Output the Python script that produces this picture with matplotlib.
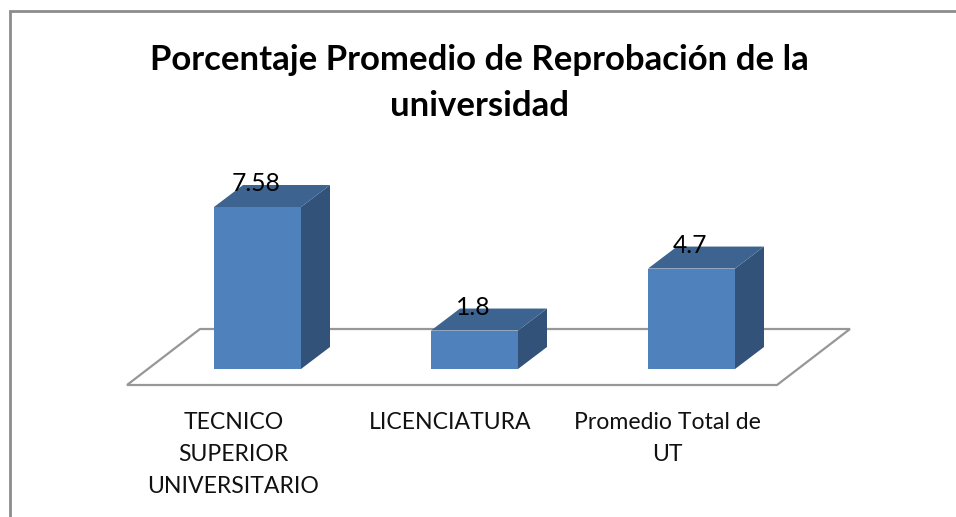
import matplotlib
matplotlib.use("Agg")
import matplotlib.pyplot as plt
from matplotlib.patches import Polygon
from matplotlib.lines import Line2D

categories = ["TECNICO\nSUPERIOR\nUNIVERSITARIO", "LICENCIATURA", "Promedio Total de\nUT"]
values = [7.58, 1.8, 4.7]
value_labels = ["7.58", "1.8", "4.7"]
title = "Porcentaje Promedio de Reprobación de la\nuniversidad"

W, H = 956, 517
FRONT, TOP, SIDE = "#4F81BD", "#3D6391", "#32527A"
GRID = "#8C8C8C"
plt.rcParams["font.family"] = ["Lato", "DejaVu Sans"]

fig = plt.figure(figsize=(W / 100, H / 100), dpi=100, facecolor="white")
ax = fig.add_axes([0, 0, 1, 1])

# scales: category spacing 217 px (first centre at 257.5), 21.37 px per value unit, zero at y=369
SX, SY, X0, Y0 = 217.0, 21.37, 257.5, 369.0
ax.set_xlim((0 - X0) / SX, (W - X0) / SX)
ax.set_ylim((Y0 - H) / SY, Y0 / SY)
ax.axis("off")
px = lambda x: (x - X0) / SX
py = lambda y: (Y0 - y) / SY

# frame (top and left only)
fig.add_artist(Line2D([9.5 / W, 9.5 / W, 1], [0, 1 - 10.5 / H, 1 - 10.5 / H], color=GRID, lw=2, solid_joinstyle="miter"))

# floor
floor = [(127, 385), (777, 385), (850, 329), (200, 329)]
ax.add_patch(Polygon([(px(x), py(y)) for x, y in floor], closed=True, fill=False, ec="#979797", lw=1.6, zorder=1))

bw = 87 / SX
dx, dy = 29 / SX, 22 / SY
for i, v in enumerate(values):
    l, r = i - bw / 2, i + bw / 2
    ax.add_patch(Polygon([(r, 0), (r + dx, dy), (r + dx, v + dy), (r, v)], fc=SIDE, ec="none", zorder=2))
    ax.add_patch(Polygon([(l, v), (r, v), (r + dx, v + dy), (l + dx, v + dy)], fc=TOP, ec="none", zorder=2))
ax.bar(range(len(values)), values, width=bw, color=FRONT, edgecolor="none", zorder=3)

for i, (v, s) in enumerate(zip(values, value_labels)):
    ax.annotate(s, (i, v), xytext=(-1.5, 16), textcoords="offset pixels", ha="center", va="baseline",
                fontsize=17.7, color="black", zorder=5)

for i, c in enumerate(categories):
    ax.text(i + px(233.5), py(412), c, ha="center", va="top", fontsize=16.6, color="#111111", linespacing=1.64)

ax.text(px(479), py(44), title, ha="center", va="top", fontsize=25, fontweight="bold", color="black", linespacing=1.555)

fig.savefig("out.png", dpi=100, facecolor="white")
